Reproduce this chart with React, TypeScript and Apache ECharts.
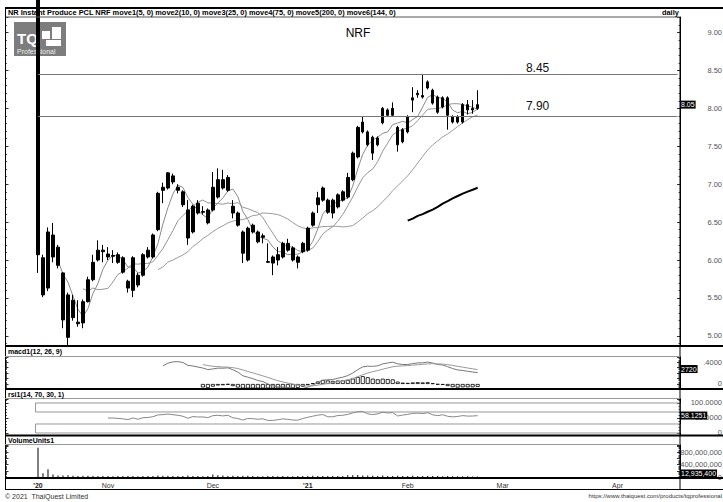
import React, { useEffect, useRef } from "react";
import * as echarts from "echarts";

// ---- data ----
const opens = [
  9.6, 6.03, 5.63, 6.33, 6.17, 5.83, 5.54, 5.24, 5.18, 5.17,
  5.45, 5.74, 6.0, 6.13, 6.08, 6.05, 6.07, 6.03, 5.72, 5.6,
  5.8, 5.8, 6.04, 6.04, 6.4, 6.92, 6.95, 7.11, 6.96, 6.9,
  6.66, 6.37, 6.75, 6.64, 6.66, 6.66, 6.83, 7.06, 6.92, 6.71,
  6.62, 6.37, 6.0, 6.46, 6.37, 6.3, 5.98, 6.04, 6.0, 6.04,
  6.22, 6.16, 6.04, 6.11, 6.13, 6.46, 6.73, 6.79, 6.79, 6.79,
  6.7, 6.79, 6.83, 7.06, 7.36, 7.69, 7.69, 7.62, 7.52, 7.81,
  7.98, 7.91, 7.75, 7.56, 7.69, 8.11, 8.18, 8.17, 8.27, 8.24,
  8.15, 8.02, 8.14, 7.89, 7.82, 7.82, 8.05, 7.98, 8.0,
];
const closes = [
  6.07, 5.54, 6.37, 6.04, 5.93, 5.21, 4.98, 5.47, 5.16, 5.45,
  5.74, 5.97, 6.13, 6.11, 6.04, 6.06, 5.97, 5.84, 5.63, 6.03,
  5.67, 6.07, 6.13, 6.33, 6.88, 6.96, 7.15, 7.03, 6.92, 6.73,
  6.29, 6.71, 6.62, 6.63, 6.49, 6.96, 7.06, 6.95, 7.09, 6.62,
  6.46, 6.09, 6.42, 6.37, 6.24, 6.32, 5.97, 5.96, 6.07, 6.22,
  6.13, 6.0, 5.97, 6.22, 6.42, 6.62, 6.82, 6.95, 6.63, 6.62,
  6.86, 6.9, 7.09, 7.41, 7.75, 7.82, 7.52, 7.41, 7.61, 8.0,
  7.91, 8.0, 7.52, 7.72, 7.89, 8.14, 8.2, 8.15, 8.35, 8.07,
  7.95, 8.14, 7.91, 7.82, 7.89, 8.05, 7.98, 8.0, 8.05,
];
const lows = [
  5.83, 5.51, 5.59, 5.97, 5.89, 5.1, 4.88, 5.2, 5.12, 5.1,
  5.44, 5.72, 5.98, 5.97, 6.0, 5.96, 5.95, 5.82, 5.57, 5.51,
  5.64, 5.78, 6.02, 6.02, 6.38, 6.75, 6.93, 7.0, 6.88, 6.7,
  6.2, 6.35, 6.6, 6.6, 6.47, 6.64, 6.81, 6.93, 6.9, 6.55,
  6.44, 5.96, 5.98, 6.35, 6.22, 6.22, 5.96, 5.8, 5.93, 6.02,
  6.11, 5.98, 5.89, 6.09, 6.11, 6.44, 6.62, 6.77, 6.61, 6.55,
  6.68, 6.77, 6.81, 7.04, 7.34, 7.67, 7.5, 7.32, 7.5, 7.79,
  7.89, 7.89, 7.43, 7.54, 7.67, 7.95, 8.14, 8.13, 8.25, 8.05,
  7.93, 8.0, 7.72, 7.8, 7.8, 7.8, 7.92, 7.93, 7.98,
];
const highs = [
  9.9, 6.07, 6.43, 6.49, 6.2, 5.84, 5.57, 5.54, 5.47, 5.48,
  5.78, 6.07, 6.26, 6.2, 6.17, 6.13, 6.1, 6.05, 5.74, 6.05,
  5.83, 6.09, 6.17, 6.35, 6.9, 7.02, 7.16, 7.14, 7.0, 6.92,
  6.79, 6.73, 6.79, 6.71, 6.68, 7.16, 7.21, 7.19, 7.12, 6.79,
  6.64, 6.39, 6.44, 6.48, 6.39, 6.35, 6.22, 6.06, 6.17, 6.24,
  6.28, 6.18, 6.06, 6.24, 6.44, 6.64, 6.9, 6.97, 6.81, 6.81,
  6.88, 6.92, 7.15, 7.43, 7.77, 7.89, 7.71, 7.64, 7.63, 8.02,
  8.0, 8.08, 7.77, 7.74, 7.91, 8.28, 8.24, 8.44, 8.37, 8.26,
  8.17, 8.16, 8.16, 7.91, 7.91, 8.07, 8.11, 8.11, 8.24,
];
const volumes = [
  950000000, 120000000, 250000000, 85000000, 50000000, 45000000, 55000000, 40000000, 35000000, 40000000,
  38000000, 35000000, 32000000, 30000000, 30000000, 28000000, 30000000, 32000000, 35000000, 30000000,
  28000000, 30000000, 32000000, 35000000, 50000000, 40000000, 38000000, 32000000, 30000000, 32000000,
  45000000, 35000000, 30000000, 28000000, 35000000, 85000000, 60000000, 45000000, 35000000, 38000000,
  32000000, 40000000, 38000000, 30000000, 28000000, 28000000, 35000000, 30000000, 28000000, 30000000,
  28000000, 28000000, 30000000, 32000000, 35000000, 40000000, 35000000, 32000000, 30000000, 30000000,
  32000000, 35000000, 55000000, 60000000, 65000000, 50000000, 45000000, 40000000, 35000000, 45000000,
  35000000, 32000000, 40000000, 32000000, 30000000, 40000000, 35000000, 35000000, 32000000, 30000000,
  32000000, 28000000, 35000000, 28000000, 25000000, 28000000, 22000000, 18000000, 12935400,
];
const dateTickIndex = [0, 14, 35, 54, 74, 93, 116];
const dateTickLabel = ["'20", "Nov", "Dec", "'21", "Feb", "Mar", "Apr"];
const levelLines = [8.45, 7.9];
const levelLabelGap = [0, 4];
const maPeriods = [5, 10, 25, 75];
const lastPriceText = "8.05";
const lastMacdText = "2720";
const lastMacdValue = 0.272;
const lastRsiText = "58.1251";
const lastRsiValue = 58.1251;
const lastVolText = "12,935,400";

const N_SLOTS = 129;
const FONT = '"Liberation Sans", Arial, sans-serif';

function sma(src: number[], n: number) {
  return src.map((_, i) => {
    if (i < n - 1) return "-";
    let s = 0;
    for (let k = i - n + 1; k <= i; k++) s += src[k];
    return +(s / n).toFixed(4);
  });
}
function ema(src: (number | null)[], n: number, start: number) {
  const out: (number | null)[] = src.map(() => null);
  const a = 2 / (n + 1);
  let s = 0;
  for (let k = start; k < start + n; k++) s += src[k] as number;
  out[start + n - 1] = s / n;
  for (let i = start + n; i < src.length; i++) out[i] = a * (src[i] as number) + (1 - a) * (out[i - 1] as number);
  return out;
}
function rsi(src: number[], n: number) {
  const out: (number | string)[] = src.map(() => "-");
  let g = 0, l = 0;
  for (let i = 1; i <= n; i++) {
    const d = src[i] - src[i - 1];
    if (d > 0) g += d; else l -= d;
  }
  g /= n; l /= n;
  out[n] = 100 - 100 / (1 + g / (l || 1e-9));
  for (let i = n + 1; i < src.length; i++) {
    const d = src[i] - src[i - 1];
    g = (g * (n - 1) + Math.max(d, 0)) / n;
    l = (l * (n - 1) + Math.max(-d, 0)) / n;
    out[i] = 100 - 100 / (1 + g / (l || 1e-9));
  }
  return out;
}

export default function App() {
  const ref = useRef<HTMLDivElement>(null);
  useEffect(() => {
    const chart = echarts.init(ref.current!, null, { renderer: "svg" });
    const cats = Array.from({ length: N_SLOTS }, (_, i) => {
      const k = dateTickIndex.indexOf(i);
      return k >= 0 ? dateTickLabel[k] : "";
    });
    const candles = opens.map((o, i) => [o, closes[i], lows[i], highs[i]]);
    const e12 = ema(closes, 12, 0);
    const e26 = ema(closes, 26, 0);
    const macd: (number | null)[] = closes.map((_, i) => (e26[i] != null && e12[i] != null ? (e12[i] as number) - (e26[i] as number) : null));
    const sig = ema(macd, 9, 25);
    const hist = macd.map((m, i) => (sig[i] != null && m != null ? m - (sig[i] as number) : "-"));
    const rsiVals = rsi(closes, 14);

    const L = 35.5, R = 43;
    const gridBase = { left: L, right: R, outerBoundsMode: "none", containLabel: false };
    const grids = [
      { ...gridBase, top: 17, height: 328 },
      { ...gridBase, top: 357, height: 31 },
      { ...gridBase, top: 399, height: 36 },
      { ...gridBase, top: 445, height: 32 },
    ];
    const xAxes = grids.map((_, gi) => ({
      type: "category",
      gridIndex: gi,
      data: cats,
      boundaryGap: true,
      axisLine: { show: false },
      axisTick: { show: false },
      splitLine: { show: false },
      axisLabel:
        gi === 3
          ? {
              show: true,
              interval: (idx: number) => dateTickIndex.indexOf(idx) >= 0,
              formatter: (v: string) => (v.startsWith("'") ? `{b|${v}}` : v),
              rich: { b: { fontWeight: "bold", fontSize: 7, fontFamily: FONT, color: "#222" } },
              align: "center",
              margin: 5,
              fontSize: 7,
              fontFamily: FONT,
              color: "#333",
            }
          : { show: false },
    }));
    const tickStyle = {
      axisLine: { show: true, lineStyle: { color: "#000", width: 1 } },
      axisTick: { show: true, inside: true, length: 3, lineStyle: { color: "#333" } },
      minorTick: { show: true, splitNumber: 5, length: 1.5, lineStyle: { color: "#555" } },
    };
    const rightAxis = (gi: number, min: number, max: number, fmt: (v: number) => string, split: number) => ({
      type: "value",
      gridIndex: gi,
      position: "right",
      min,
      max,
      splitNumber: split,
      splitLine: { show: false },
      ...tickStyle,
      axisLabel: {
        formatter: fmt, align: "right", margin: 42, fontSize: 7.5, fontFamily: FONT, color: "#555",
        hideOverlap: false, showMinLabel: true, showMaxLabel: true,
      },
    });
    const leftAxis = (gi: number, min: number, max: number, split: number) => ({
      type: "value", gridIndex: gi, position: "left", offset: L - 5.5, min, max, splitNumber: split,
      splitLine: { show: false }, axisLabel: { show: false }, ...tickStyle,
    });
    const near = (v: number, t: number) => Math.abs(v - t) < 1e-3 * Math.max(1, Math.abs(t));
    const priceMin = 4.879, priceMax = 9.206;
    const ranges: [number, number, number][] = [
      [priceMin, priceMax, 9],
      [-0.073, 0.491, 5],
      [-6.7, 113.3, 2],
      [0, 1.04e9, 5],
    ];
    const fmts: ((v: number) => string)[] = [
      (v) => (Math.abs(v * 2 - Math.round(v * 2)) < 1e-6 ? v.toFixed(2) : ""),
      (v) => (near(v, 0) ? "0" : near(v, 0.4) ? ".4000" : ""),
      (v) => (near(v, 0) ? "0" : near(v, 50) ? "50.0000" : near(v, 100) ? "100.0000" : ""),
      (v) => (near(v, 0) ? "0" : near(v, 4e8) ? "400,000,000" : near(v, 8e8) ? "800,000,000" : ""),
    ];
    const yAxes: any[] = [];
    ranges.forEach(([mn, mx, sp], gi) => {
      yAxes.push(rightAxis(gi, mn, mx, fmts[gi], sp));
      yAxes.push(leftAxis(gi, mn, mx, sp));
    });
    // right axes are 0,2,4,6
    const valueBox = (val: number, text: string, dy = 0) => ({
      silent: true,
      symbol: "rect",
      symbolSize: 0,
      label: {
        show: true, position: "right", distance: 2.5, offset: [0, dy], formatter: text, color: "#fff", backgroundColor: "#000",
        fontSize: 7, fontFamily: FONT, padding: [1, 1, 0, 1],
      },
      data: [{ coord: [N_SLOTS - 1, val] }],
    });
    const maColors = ["#8a8a8a", "#959595", "#9a9a9a", "#000"];
    const series: any[] = [
      {
        type: "candlestick",
        xAxisIndex: 0,
        yAxisIndex: 0,
        data: candles,
        barWidth: 3,
        clip: true,
        itemStyle: { color: "#000", color0: "#000", borderColor: "#000", borderColor0: "#000", borderWidth: 1 },
        markLine: {
          silent: true,
          symbol: "none",
          lineStyle: { color: "#777", width: 1, type: "solid" },
          label: { show: false },
          data: levelLines.map((v) => [{ coord: [0, v] }, { coord: [N_SLOTS - 1, v] }]),
        },
        markPoint: {
          silent: true,
          symbol: "rect",
          symbolSize: 0,
          label: { show: true, position: "top", fontSize: 12, fontFamily: FONT, color: "#111", formatter: (p: any) => p.value.toFixed(2) },
          data: levelLines.map((v, k) => ({ coord: [100, v], value: v, label: { distance: levelLabelGap[k] } })),
        },
      },
      ...maPeriods.map((n, k) => ({
        type: "line",
        xAxisIndex: 0,
        yAxisIndex: 0,
        data: sma(closes, n),
        symbol: "none",
        lineStyle: { color: maColors[k], width: n === 75 ? 2 : 1 },
        z: 1,
        markPoint: k === 0 ? valueBox(closes[closes.length - 1], lastPriceText) : undefined,
      })),
      {
        type: "bar", xAxisIndex: 1, yAxisIndex: 2, data: hist, barWidth: 4,
        itemStyle: { color: "#fff", borderColor: "#000", borderWidth: 0.8 },
      },
      { type: "line", xAxisIndex: 1, yAxisIndex: 2, data: macd.map((m) => (m == null ? "-" : m)), symbol: "none", lineStyle: { color: "#777", width: 1 }, markPoint: valueBox(lastMacdValue, lastMacdText) },
      { type: "line", xAxisIndex: 1, yAxisIndex: 2, data: sig.map((m) => (m == null ? "-" : m)), symbol: "none", lineStyle: { color: "#999", width: 1 } },
      {
        type: "line", xAxisIndex: 2, yAxisIndex: 4, data: rsiVals, symbol: "none", lineStyle: { color: "#888", width: 1 },
        markArea: {
          silent: true,
          itemStyle: { color: "rgba(0,0,0,0)", borderColor: "#999", borderWidth: 1 },
          data: [[{ yAxis: 70 }, { yAxis: 100 }], [{ yAxis: 0 }, { yAxis: 30 }]],
        },
        markPoint: valueBox(lastRsiValue, lastRsiText),
      },
      {
        type: "bar", xAxisIndex: 3, yAxisIndex: 6, data: volumes, barWidth: 1, itemStyle: { color: "#000" },
        markPoint: valueBox(volumes[volumes.length - 1], lastVolText, -3),
      },
    ];

    const hl = (x1: number, y: number, x2: number, w: number, c: string) => ({
      type: "line", shape: { x1, y1: y, x2, y2: y }, style: { stroke: c, lineWidth: w }, silent: true, z: 10,
    });
    const vl = (x: number, y1: number, y2: number, w: number, c: string) => ({
      type: "line", shape: { x1: x, y1, x2: x, y2 }, style: { stroke: c, lineWidth: w }, silent: true, z: 10,
    });
    const txt = (x: number, y: number, text: string, size: number, opts: any = {}) => ({
      type: "text", x, y, silent: true, z: 11,
      style: { text, fontSize: size, fontFamily: FONT, fill: opts.fill || "#000", fontWeight: opts.bold ? "bold" : "normal", align: opts.align || "left", verticalAlign: "middle" },
    });

    const graphic: any[] = [
      // logo
      { type: "rect", shape: { x: 14, y: 22, width: 52, height: 34 }, style: { fill: "#7d7d7d" }, z: -1, silent: true },
      { type: "text", x: 17, y: 38, z: -1, silent: true, style: { text: "TQ", fontSize: 15, fontWeight: "bold", fontFamily: FONT, fill: "#fff", verticalAlign: "middle" } },
      { type: "rect", shape: { x: 42, y: 31, width: 8, height: 8 }, style: { fill: "#fff" }, z: -1, silent: true },
      { type: "rect", shape: { x: 52, y: 27, width: 9, height: 12 }, style: { fill: "#fff" }, z: -1, silent: true },
      { type: "rect", shape: { x: 46, y: 40, width: 15, height: 6 }, style: { fill: "#fff" }, z: -1, silent: true },
      { type: "text", x: 17, y: 51, z: -1, silent: true, style: { text: "Professional", fontSize: 7, fontFamily: FONT, fill: "#eee", verticalAlign: "middle" } },
      // frames
      hl(5, 8, 723, 2, "#000"),
      hl(5, 17, 680, 1, "#555"),
      vl(5.5, 8, 489, 1, "#000"),
      vl(680, 17, 489, 1, "#000"),
      hl(5, 346, 723, 2, "#000"),
      hl(5, 356.5, 680, 1, "#999"),
      hl(5, 389, 723, 2, "#000"),
      hl(5, 398.5, 680, 1, "#999"),
      hl(5, 435.5, 723, 2, "#000"),
      hl(5, 444.5, 680, 1, "#999"),
      hl(5, 478, 723, 2, "#000"),
      hl(5, 489.5, 723, 1, "#000"),
      // texts
      txt(8, 12.5, "NR Instant Produce PCL NRF move1(5, 0) move2(10, 0) move3(25, 0) move4(75, 0) move5(200, 0) move6(144, 0)", 7.4, { bold: true }),
      txt(662, 12.5, "daily", 7.4, { bold: true }),
      txt(358, 33, "NRF", 12, { align: "center" }),
      txt(8, 351.5, "macd1(12, 26, 9)", 7, { bold: true }),
      txt(8, 394, "rsi1(14, 70, 30, 1)", 7, { bold: true }),
      txt(8, 440, "VolumeUnits1", 7, { bold: true }),
      txt(5, 496, "\u00a9 2021  ThaiQuest Limited", 7, { fill: "#333" }),
      txt(722, 496, "https://www.thaiquest.com/products/tqprofessional", 6, { fill: "#333", align: "right" }),
    ];

    chart.setOption({
      animation: false,
      backgroundColor: "#fff",
      grid: grids,
      xAxis: xAxes,
      yAxis: yAxes,
      series,
      graphic,
    });
    return () => chart.dispose();
  }, []);
  return <div ref={ref} style={{ position: "absolute", left: 0, top: 0, width: 723, height: 502 }} />;
}
